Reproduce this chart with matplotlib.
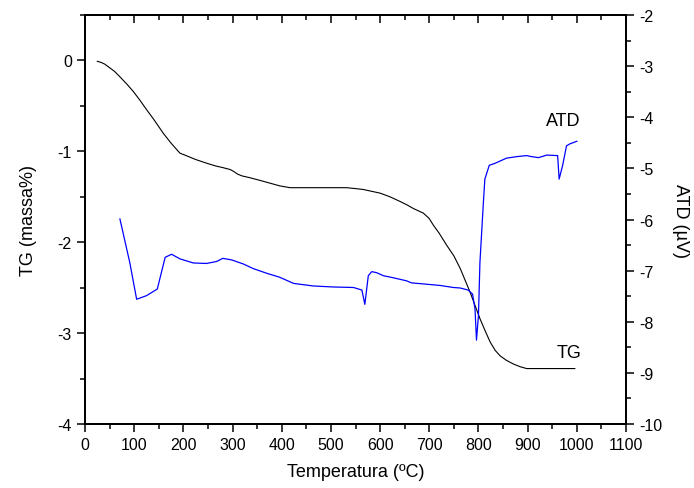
import matplotlib
matplotlib.use("Agg")
import matplotlib.pyplot as plt
from matplotlib.ticker import MultipleLocator

plt.rcParams['font.family'] = ['Liberation Sans', 'DejaVu Sans']
plt.rcParams['axes.unicode_minus'] = False

# TG curve (left axis, massa%)
tg_temp = [25, 32, 40, 50, 60, 71, 85, 98, 112, 125, 140, 159, 175, 193, 207, 225,
           247, 265, 281, 295, 302, 310, 319, 335, 356, 376, 396, 417,
           464, 532, 550, 566, 583, 600, 620, 640, 655, 668, 688, 700, 708, 720,
           735, 750, 763, 783, 803, 814, 824, 834, 844, 857, 871, 885, 898, 996]
tg_val = [-0.01, -0.02, -0.04, -0.08, -0.12, -0.18, -0.26, -0.34, -0.44, -0.54, -0.65,
          -0.80, -0.91, -1.02, -1.05, -1.09, -1.13, -1.16, -1.18, -1.20, -1.22, -1.25,
          -1.27, -1.29, -1.32, -1.35, -1.38, -1.40, -1.40, -1.40, -1.41, -1.42, -1.44,
          -1.46, -1.50, -1.55, -1.59, -1.63, -1.68, -1.74, -1.81, -1.90, -2.03, -2.15,
          -2.29, -2.55, -2.84, -2.98, -3.10, -3.19, -3.25, -3.30, -3.34, -3.37, -3.39,
          -3.39]

# ATD curve (right axis, microvolts)
atd_temp = [71, 91, 105, 125, 147, 163, 176, 193, 220, 247, 268, 280, 298, 322, 342,
            369, 396, 424, 464, 505, 546, 563, 569, 576, 583, 593, 607, 627, 654, 664,
            688, 722, 749, 763, 779, 788, 793, 796, 800, 803, 810, 813, 822, 834, 857,
            878, 898, 908, 922, 939, 961, 964, 971, 979, 986, 1000]
atd_val = [-5.99, -6.84, -7.56, -7.49, -7.36, -6.74, -6.68, -6.77, -6.85, -6.86, -6.82,
           -6.76, -6.79, -6.87, -6.96, -7.05, -7.13, -7.25, -7.30, -7.32, -7.33, -7.38,
           -7.66, -7.10, -7.02, -7.04, -7.10, -7.14, -7.20, -7.24, -7.26, -7.29, -7.33,
           -7.34, -7.38, -7.46, -7.75, -8.36, -7.88, -6.84, -5.67, -5.21, -4.94, -4.90,
           -4.80, -4.77, -4.75, -4.77, -4.79, -4.74, -4.75, -5.21, -4.95, -4.56, -4.52,
           -4.47]

fig = plt.figure(figsize=(6.94, 4.89), dpi=100)
ax = fig.add_axes([85/694, 1-425/489, (626-85)/694, (425-16)/489])
ax.plot(tg_temp, tg_val, color='black', lw=0.8)
ax.set_xlim(0, 1100)
ax.set_ylim(-4, 0.5)
ax.xaxis.set_major_locator(MultipleLocator(100))
ax.xaxis.set_minor_locator(MultipleLocator(50))
ax.yaxis.set_major_locator(MultipleLocator(1))
ax.yaxis.set_minor_locator(MultipleLocator(0.5))
ax.tick_params(which='major', direction='out', length=6, width=1.1, labelsize=11.5)
ax.tick_params(which='minor', direction='out', length=3.5, width=1.1)
ax.set_yticks([0, -1, -2, -3, -4])
for s in ax.spines.values():
    s.set_linewidth(1.3)
ax.set_xlabel('Temperatura (ºC)', fontsize=13, labelpad=8)
ax.set_ylabel('TG (massa%)', fontsize=13, labelpad=15)

top = ax.secondary_xaxis('top')
top.xaxis.set_major_locator(MultipleLocator(100))
top.xaxis.set_minor_locator(MultipleLocator(50))
top.tick_params(which='major', direction='in', length=6, width=1.1, labeltop=False)
top.tick_params(which='minor', direction='in', length=3.5, width=1.1)
top.spines['top'].set_linewidth(1.3)

ax2 = ax.twinx()
ax2.plot(atd_temp, atd_val, color='#0000FF', lw=0.9)
ax2.set_ylim(-10, -2)
ax2.yaxis.set_major_locator(MultipleLocator(1))
ax2.yaxis.set_minor_locator(MultipleLocator(0.5))
ax2.tick_params(which='major', direction='out', length=6, width=1.1, labelsize=11.5)
ax2.tick_params(which='minor', direction='out', length=3.5, width=1.1)
for s in ax2.spines.values():
    s.set_linewidth(1.3)
ax2.set_ylabel('ATD (µV)', fontsize=13, rotation=270, labelpad=19)

ax.text(938, -0.66, 'ATD', fontsize=13, ha='left', va='center')
ax.text(958, -3.21, 'TG', fontsize=13, ha='left', va='center')

fig.savefig('out.png', dpi=100)
